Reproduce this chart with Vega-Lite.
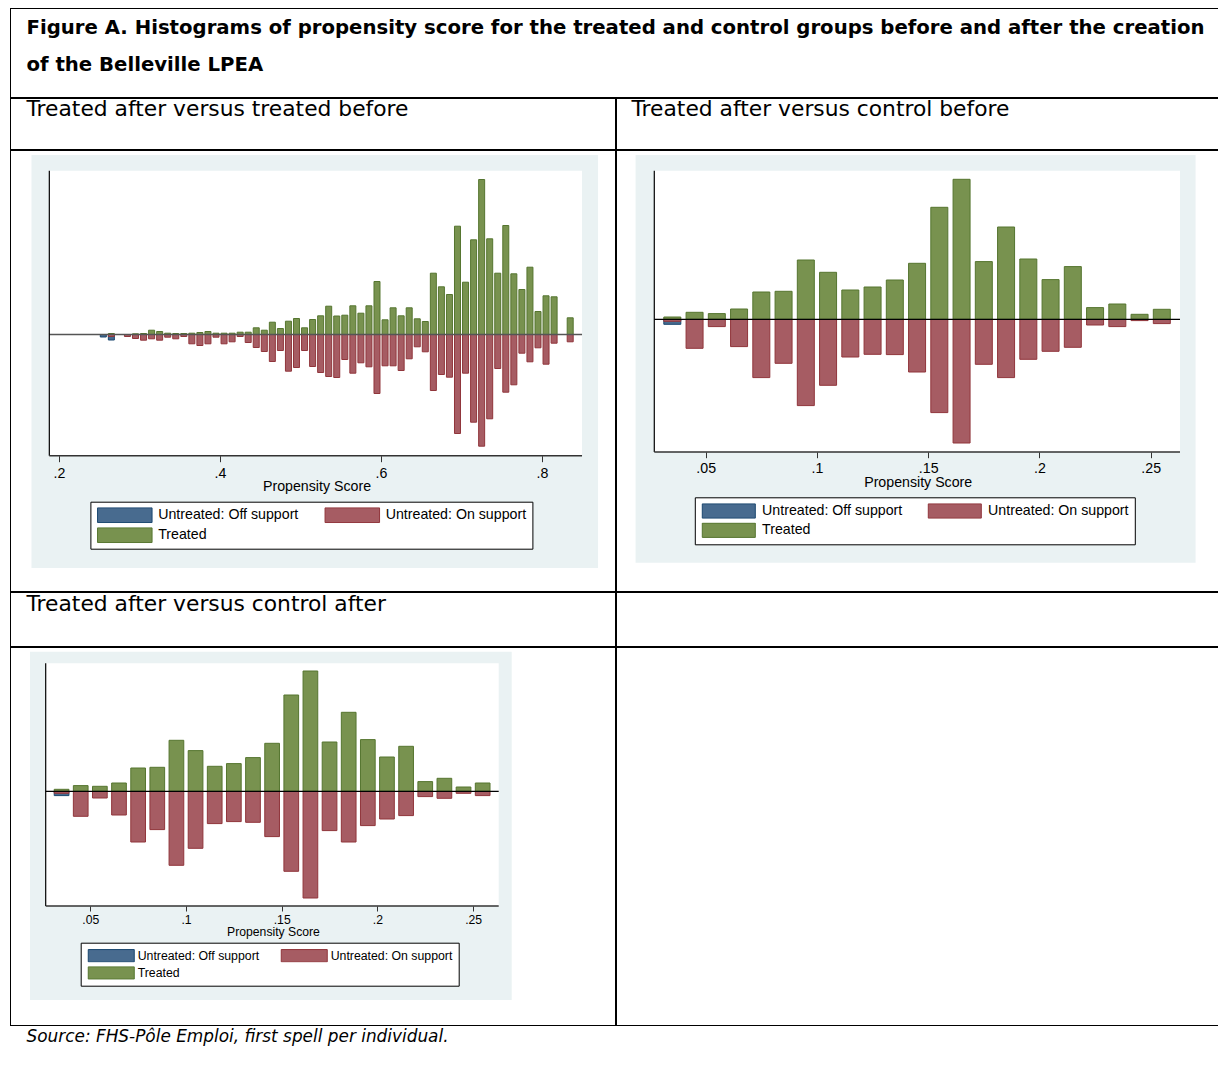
{
"$schema": "https://vega.github.io/schema/vega-lite/v6.json",
"background": "white",
"padding": {"left": 10, "top": 8, "right": 0, "bottom": 0},
"bounds": "full",
"spacing": 0,
"config": {"view": {"stroke": null}},
"resolve": {"scale": {"x": "independent", "y": "independent", "fill": "independent", "stroke": "independent"}, "legend": {"fill": "independent", "stroke": "independent"}},
"datasets": {
"cell": [{}],
"tb": [
{"score":0.255,"group":"Untreated: Off support","density":-2.5},
{"score":0.265,"group":"Untreated: Off support","density":-5.5},
{"score":0.265,"group":"Untreated: On support","density":-2},
{"score":0.285,"group":"Untreated: On support","density":-2},
{"score":0.295,"group":"Untreated: On support","density":-4},
{"score":0.305,"group":"Untreated: On support","density":-5.7},
{"score":0.315,"group":"Untreated: On support","density":-4.3},
{"score":0.325,"group":"Untreated: On support","density":-5.7},
{"score":0.335,"group":"Untreated: On support","density":-2.7},
{"score":0.345,"group":"Untreated: On support","density":-4.3},
{"score":0.355,"group":"Untreated: On support","density":-2},
{"score":0.365,"group":"Untreated: On support","density":-9.3},
{"score":0.375,"group":"Untreated: On support","density":-11},
{"score":0.385,"group":"Untreated: On support","density":-9.3},
{"score":0.395,"group":"Untreated: On support","density":-2.7},
{"score":0.405,"group":"Untreated: On support","density":-9.3},
{"score":0.415,"group":"Untreated: On support","density":-7.3},
{"score":0.425,"group":"Untreated: On support","density":-2},
{"score":0.435,"group":"Untreated: On support","density":-8},
{"score":0.445,"group":"Untreated: On support","density":-13},
{"score":0.455,"group":"Untreated: On support","density":-17},
{"score":0.465,"group":"Untreated: On support","density":-27},
{"score":0.475,"group":"Untreated: On support","density":-16},
{"score":0.485,"group":"Untreated: On support","density":-36.7},
{"score":0.495,"group":"Untreated: On support","density":-33},
{"score":0.505,"group":"Untreated: On support","density":-16},
{"score":0.515,"group":"Untreated: On support","density":-32},
{"score":0.525,"group":"Untreated: On support","density":-38},
{"score":0.535,"group":"Untreated: On support","density":-42},
{"score":0.545,"group":"Untreated: On support","density":-43},
{"score":0.555,"group":"Untreated: On support","density":-25},
{"score":0.565,"group":"Untreated: On support","density":-38.7},
{"score":0.575,"group":"Untreated: On support","density":-28.3},
{"score":0.585,"group":"Untreated: On support","density":-32.3},
{"score":0.595,"group":"Untreated: On support","density":-59},
{"score":0.605,"group":"Untreated: On support","density":-31.3},
{"score":0.615,"group":"Untreated: On support","density":-31.3},
{"score":0.625,"group":"Untreated: On support","density":-36},
{"score":0.635,"group":"Untreated: On support","density":-24.3},
{"score":0.645,"group":"Untreated: On support","density":-12.3},
{"score":0.655,"group":"Untreated: On support","density":-17.3},
{"score":0.665,"group":"Untreated: On support","density":-56},
{"score":0.675,"group":"Untreated: On support","density":-40},
{"score":0.685,"group":"Untreated: On support","density":-42.7},
{"score":0.695,"group":"Untreated: On support","density":-99},
{"score":0.705,"group":"Untreated: On support","density":-38.7},
{"score":0.715,"group":"Untreated: On support","density":-87.7},
{"score":0.725,"group":"Untreated: On support","density":-111.7},
{"score":0.735,"group":"Untreated: On support","density":-84.3},
{"score":0.745,"group":"Untreated: On support","density":-34},
{"score":0.755,"group":"Untreated: On support","density":-57.7},
{"score":0.765,"group":"Untreated: On support","density":-50.3},
{"score":0.775,"group":"Untreated: On support","density":-18.7},
{"score":0.785,"group":"Untreated: On support","density":-27.3},
{"score":0.795,"group":"Untreated: On support","density":-13.3},
{"score":0.805,"group":"Untreated: On support","density":-29.7},
{"score":0.815,"group":"Untreated: On support","density":-8.7},
{"score":0.835,"group":"Untreated: On support","density":-7.3},
{"score":0.265,"group":"Treated","density":1},
{"score":0.295,"group":"Treated","density":0.7},
{"score":0.305,"group":"Treated","density":1},
{"score":0.315,"group":"Treated","density":4.3},
{"score":0.325,"group":"Treated","density":3},
{"score":0.335,"group":"Treated","density":1.3},
{"score":0.345,"group":"Treated","density":1},
{"score":0.355,"group":"Treated","density":1},
{"score":0.365,"group":"Treated","density":1.3},
{"score":0.375,"group":"Treated","density":2},
{"score":0.385,"group":"Treated","density":3},
{"score":0.395,"group":"Treated","density":1.3},
{"score":0.405,"group":"Treated","density":1.3},
{"score":0.415,"group":"Treated","density":1.3},
{"score":0.425,"group":"Treated","density":2.3},
{"score":0.435,"group":"Treated","density":2.3},
{"score":0.445,"group":"Treated","density":6.7},
{"score":0.455,"group":"Treated","density":4.3},
{"score":0.465,"group":"Treated","density":12.3},
{"score":0.475,"group":"Treated","density":6},
{"score":0.485,"group":"Treated","density":13.3},
{"score":0.495,"group":"Treated","density":16},
{"score":0.505,"group":"Treated","density":6.7},
{"score":0.515,"group":"Treated","density":15},
{"score":0.525,"group":"Treated","density":18.7},
{"score":0.535,"group":"Treated","density":28.3},
{"score":0.545,"group":"Treated","density":18.5},
{"score":0.555,"group":"Treated","density":19.3},
{"score":0.565,"group":"Treated","density":28.7},
{"score":0.575,"group":"Treated","density":21.3},
{"score":0.585,"group":"Treated","density":28.7},
{"score":0.595,"group":"Treated","density":53},
{"score":0.605,"group":"Treated","density":14.7},
{"score":0.615,"group":"Treated","density":26.7},
{"score":0.625,"group":"Treated","density":18.7},
{"score":0.635,"group":"Treated","density":26.7},
{"score":0.645,"group":"Treated","density":15.7},
{"score":0.655,"group":"Treated","density":13},
{"score":0.665,"group":"Treated","density":61.3},
{"score":0.675,"group":"Treated","density":47.7},
{"score":0.685,"group":"Treated","density":40},
{"score":0.695,"group":"Treated","density":108.3},
{"score":0.705,"group":"Treated","density":52.3},
{"score":0.715,"group":"Treated","density":94.7},
{"score":0.725,"group":"Treated","density":155},
{"score":0.735,"group":"Treated","density":95.7},
{"score":0.745,"group":"Treated","density":61.3},
{"score":0.755,"group":"Treated","density":109},
{"score":0.765,"group":"Treated","density":60.7},
{"score":0.775,"group":"Treated","density":45},
{"score":0.785,"group":"Treated","density":67.3},
{"score":0.795,"group":"Treated","density":23},
{"score":0.805,"group":"Treated","density":38.7},
{"score":0.815,"group":"Treated","density":37.7},
{"score":0.835,"group":"Treated","density":16.7}
],
"cb": [
{"score":0.035,"group":"Untreated: Off support","density":-5},
{"score":0.035,"group":"Untreated: On support","density":-2},
{"score":0.045,"group":"Untreated: On support","density":-29},
{"score":0.055,"group":"Untreated: On support","density":-7.3},
{"score":0.065,"group":"Untreated: On support","density":-27.3},
{"score":0.075,"group":"Untreated: On support","density":-58.3},
{"score":0.085,"group":"Untreated: On support","density":-44},
{"score":0.095,"group":"Untreated: On support","density":-86.3},
{"score":0.105,"group":"Untreated: On support","density":-66},
{"score":0.115,"group":"Untreated: On support","density":-37.7},
{"score":0.125,"group":"Untreated: On support","density":-35},
{"score":0.135,"group":"Untreated: On support","density":-35.3},
{"score":0.145,"group":"Untreated: On support","density":-52.7},
{"score":0.155,"group":"Untreated: On support","density":-93.3},
{"score":0.165,"group":"Untreated: On support","density":-123.7},
{"score":0.175,"group":"Untreated: On support","density":-45},
{"score":0.185,"group":"Untreated: On support","density":-58.3},
{"score":0.195,"group":"Untreated: On support","density":-40},
{"score":0.205,"group":"Untreated: On support","density":-32},
{"score":0.215,"group":"Untreated: On support","density":-28},
{"score":0.225,"group":"Untreated: On support","density":-5.7},
{"score":0.235,"group":"Untreated: On support","density":-7.3},
{"score":0.245,"group":"Untreated: On support","density":-1.3},
{"score":0.255,"group":"Untreated: On support","density":-4.3},
{"score":0.035,"group":"Treated","density":2.3},
{"score":0.045,"group":"Treated","density":7},
{"score":0.055,"group":"Treated","density":5.7},
{"score":0.065,"group":"Treated","density":10.3},
{"score":0.075,"group":"Treated","density":27.3},
{"score":0.085,"group":"Treated","density":28},
{"score":0.095,"group":"Treated","density":59.3},
{"score":0.105,"group":"Treated","density":47},
{"score":0.115,"group":"Treated","density":29.3},
{"score":0.125,"group":"Treated","density":32.3},
{"score":0.135,"group":"Treated","density":39.3},
{"score":0.145,"group":"Treated","density":56},
{"score":0.155,"group":"Treated","density":112},
{"score":0.165,"group":"Treated","density":140},
{"score":0.175,"group":"Treated","density":57.7},
{"score":0.185,"group":"Treated","density":92.3},
{"score":0.195,"group":"Treated","density":60.3},
{"score":0.205,"group":"Treated","density":39.7},
{"score":0.215,"group":"Treated","density":52.7},
{"score":0.225,"group":"Treated","density":11.7},
{"score":0.235,"group":"Treated","density":15.3},
{"score":0.245,"group":"Treated","density":5},
{"score":0.255,"group":"Treated","density":10}
],
"ca": [
{"score":0.035,"group":"Untreated: Off support","density":-4.3},
{"score":0.035,"group":"Untreated: On support","density":-2},
{"score":0.045,"group":"Untreated: On support","density":-25},
{"score":0.055,"group":"Untreated: On support","density":-6.7},
{"score":0.065,"group":"Untreated: On support","density":-23.7},
{"score":0.075,"group":"Untreated: On support","density":-50.7},
{"score":0.085,"group":"Untreated: On support","density":-38.3},
{"score":0.095,"group":"Untreated: On support","density":-74},
{"score":0.105,"group":"Untreated: On support","density":-57},
{"score":0.115,"group":"Untreated: On support","density":-32.3},
{"score":0.125,"group":"Untreated: On support","density":-30.3},
{"score":0.135,"group":"Untreated: On support","density":-31},
{"score":0.145,"group":"Untreated: On support","density":-45.3},
{"score":0.155,"group":"Untreated: On support","density":-80},
{"score":0.165,"group":"Untreated: On support","density":-106.7},
{"score":0.175,"group":"Untreated: On support","density":-39.3},
{"score":0.185,"group":"Untreated: On support","density":-50.7},
{"score":0.195,"group":"Untreated: On support","density":-34.3},
{"score":0.205,"group":"Untreated: On support","density":-27.7},
{"score":0.215,"group":"Untreated: On support","density":-24.3},
{"score":0.225,"group":"Untreated: On support","density":-5.3},
{"score":0.235,"group":"Untreated: On support","density":-7},
{"score":0.245,"group":"Untreated: On support","density":-2},
{"score":0.255,"group":"Untreated: On support","density":-4.3},
{"score":0.035,"group":"Treated","density":2},
{"score":0.045,"group":"Treated","density":5.7},
{"score":0.055,"group":"Treated","density":5},
{"score":0.065,"group":"Treated","density":8.3},
{"score":0.075,"group":"Treated","density":23.3},
{"score":0.085,"group":"Treated","density":24},
{"score":0.095,"group":"Treated","density":51},
{"score":0.105,"group":"Treated","density":40.7},
{"score":0.115,"group":"Treated","density":25},
{"score":0.125,"group":"Treated","density":27.7},
{"score":0.135,"group":"Treated","density":33.7},
{"score":0.145,"group":"Treated","density":48},
{"score":0.155,"group":"Treated","density":96.3},
{"score":0.165,"group":"Treated","density":120.3},
{"score":0.175,"group":"Treated","density":49.3},
{"score":0.185,"group":"Treated","density":79},
{"score":0.195,"group":"Treated","density":51.7},
{"score":0.205,"group":"Treated","density":34.3},
{"score":0.215,"group":"Treated","density":45},
{"score":0.225,"group":"Treated","density":9.7},
{"score":0.235,"group":"Treated","density":13},
{"score":0.245,"group":"Treated","density":4.3},
{"score":0.255,"group":"Treated","density":8.3}
]
},
"vconcat": [
{"width": 1209, "height": 90, "data": {"name": "cell"}, "mark": {"type": "rect", "fill": "white", "fillOpacity": 0, "stroke": "black", "strokeWidth": 2, "clip": true},
 "encoding": {"x": {"datum": 0, "type": "quantitative", "scale": {"domain": [0, 1], "nice": false, "zero": false, "padding": 0},
   "axis": {"orient": "top", "domain": false, "ticks": false, "labels": false, "grid": false, "title": ["Figure A. Histograms of propensity score for the treated and control groups before and after the creation", "of the Belleville LPEA"], "titleX": 16, "titleY": 25.5, "titleAlign": "left", "titleAnchor": "start", "titleBaseline": "alphabetic", "titleLineHeight": 37, "titleFont": "DejaVu Sans", "titleFontSize": 19.7, "titleFontWeight": "bold", "titleColor": "black", "titlePadding": 0, "zindex": 1}},
  "x2": {"datum": 1}}},
{"hconcat": [
 {"width": 606, "height": 52, "data": {"name": "cell"}, "mark": {"type": "rect", "fill": "white", "fillOpacity": 0, "stroke": "black", "strokeWidth": 2, "clip": true},
  "encoding": {"x": {"datum": 0, "type": "quantitative", "scale": {"domain": [0, 1], "nice": false, "zero": false, "padding": 0},
    "axis": {"orient": "top", "domain": false, "ticks": false, "labels": false, "grid": false, "title": "Treated after versus treated before", "titleX": 16, "titleY": 17.7, "titleAlign": "left", "titleAnchor": "start", "titleBaseline": "alphabetic", "titleFont": "DejaVu Sans", "titleFontSize": 21.8, "titleFontWeight": "normal", "titleColor": "black", "titlePadding": 0, "zindex": 1}},
   "x2": {"datum": 1}}},
 {"width": 603, "height": 52, "data": {"name": "cell"}, "mark": {"type": "rect", "fill": "white", "fillOpacity": 0, "stroke": "black", "strokeWidth": 2, "clip": true},
  "encoding": {"x": {"datum": 0, "type": "quantitative", "scale": {"domain": [0, 1], "nice": false, "zero": false, "padding": 0},
    "axis": {"orient": "top", "domain": false, "ticks": false, "labels": false, "grid": false, "title": "Treated after versus control before", "titleX": 15, "titleY": 17.7, "titleAlign": "left", "titleAnchor": "start", "titleBaseline": "alphabetic", "titleFont": "DejaVu Sans", "titleFontSize": 21.8, "titleFontWeight": "normal", "titleColor": "black", "titlePadding": 0, "zindex": 1}},
   "x2": {"datum": 1}}}
 ], "spacing": 0},
{"hconcat": [
 {"width": 606, "height": 442,
  "layer": [
   {"data": {"name": "cell"}, "mark": {"type": "rect", "fill": "#EAF2F3"},
    "encoding": {"x": {"datum": 0.1658, "type": "quantitative", "scale": {"domain": [0.1391, 0.8919], "nice": false, "zero": false, "padding": 0},
      "axis": {"values": [0.2, 0.4, 0.6, 0.8], "offset": -136.3, "domain": false, "grid": false, "ticks": true, "tickSize": 6, "tickColor": "#333333", "tickWidth": 1, "labelExpr": "replace(format(datum.value, '.1f'), '0.', '.')", "labelFont": "Liberation Sans", "labelFontSize": 14.2, "labelColor": "black", "labelBaseline": "alphabetic", "labelPadding": 15.6, "labelFlush": false, "labelOverlap": false, "labelBound": false, "title": "Propensity Score", "titleFont": "Liberation Sans", "titleFontSize": 14.2, "titleFontWeight": "normal", "titleColor": "black", "titleX": 306.5, "titleY": 34.3, "titleBaseline": "alphabetic", "titleAlign": "center", "zindex": 1}},
     "x2": {"datum": 0.8696},
     "y": {"datum": 179.5, "type": "quantitative", "scale": {"domain": [-257.5, 184.5], "nice": false, "zero": false, "padding": 0}, "axis": null}, "y2": {"datum": -233.5}}},
   {"data": {"name": "cell"}, "mark": {"type": "rect", "fill": "white"},
    "encoding": {"x": {"datum": 0.18795, "type": "quantitative", "scale": {"domain": [0.1391, 0.8919], "nice": false, "zero": false, "padding": 0},
      "axis": {"values": [0.2, 0.4, 0.6, 0.8], "offset": -136.3, "domain": false, "grid": false, "ticks": true, "tickSize": 6, "tickColor": "#333333", "tickWidth": 1, "labelExpr": "replace(format(datum.value, '.1f'), '0.', '.')", "labelFont": "Liberation Sans", "labelFontSize": 14.2, "labelColor": "black", "labelBaseline": "alphabetic", "labelPadding": 15.6, "labelFlush": false, "labelOverlap": false, "labelBound": false, "title": "Propensity Score", "titleFont": "Liberation Sans", "titleFontSize": 14.2, "titleFontWeight": "normal", "titleColor": "black", "titleX": 306.5, "titleY": 34.3, "titleBaseline": "alphabetic", "titleAlign": "center", "zindex": 1}},
     "x2": {"datum": 0.8497},
     "y": {"datum": 163.8, "type": "quantitative", "scale": {"domain": [-257.5, 184.5], "nice": false, "zero": false, "padding": 0}, "axis": null}, "y2": {"datum": -121.2}}},
   {"data": {"name": "tb"}, "mark": {"type": "bar", "width": 6, "strokeWidth": 1},
    "encoding": {
     "x": {"field": "score", "type": "quantitative", "scale": {"domain": [0.1391, 0.8919], "nice": false, "zero": false, "padding": 0},
      "axis": {"values": [0.2, 0.4, 0.6, 0.8], "offset": -136.3, "domain": false, "grid": false, "ticks": true, "tickSize": 6, "tickColor": "#333333", "tickWidth": 1, "labelExpr": "replace(format(datum.value, '.1f'), '0.', '.')", "labelFont": "Liberation Sans", "labelFontSize": 14.2, "labelColor": "black", "labelBaseline": "alphabetic", "labelPadding": 15.6, "labelFlush": false, "labelOverlap": false, "labelBound": false, "title": "Propensity Score", "titleFont": "Liberation Sans", "titleFontSize": 14.2, "titleFontWeight": "normal", "titleColor": "black", "titleX": 306.5, "titleY": 34.3, "titleBaseline": "alphabetic", "titleAlign": "center", "zindex": 1}},
     "y": {"field": "density", "type": "quantitative", "scale": {"domain": [-257.5, 184.5], "nice": false, "zero": false, "padding": 0}, "axis": null},
     "y2": {"datum": 0},
     "fill": {"field": "group", "type": "nominal", "scale": {"domain": ["Untreated: Off support", "Untreated: On support", "Treated"], "range": ["#486B8F", "#A65C63", "#78924F"]},
      "legend": {"orient": "none", "legendX": 80.4, "legendY": 351.7, "title": null, "direction": "horizontal", "columns": 2, "symbolType": "M-5,-1.35H5V1.35H-5Z", "symbolSize": 118.8, "symbolOffset": 21.8, "symbolStrokeWidth": 1, "symbolOpacity": 1, "labelFont": "Liberation Sans", "labelFontSize": 14.2, "labelColor": "black", "labelOffset": 26.3, "labelLimit": 400, "clipHeight": 16, "columnPadding": 24.5, "rowPadding": 4, "padding": 5.5, "strokeColor": "black", "fillColor": "white", "zindex": 1}},
     "stroke": {"field": "group", "type": "nominal", "scale": {"domain": ["Untreated: Off support", "Untreated: On support", "Treated"], "range": ["#1A476F", "#90353B", "#55752F"]}}
    }},
   {"data": {"name": "cell"}, "mark": {"type": "rule", "color": "#555555", "strokeWidth": 1.5},
    "encoding": {"x": {"datum": 0.18795, "type": "quantitative", "scale": {"domain": [0.1391, 0.8919], "nice": false, "zero": false, "padding": 0},
      "axis": {"values": [0.2, 0.4, 0.6, 0.8], "offset": -136.3, "domain": false, "grid": false, "ticks": true, "tickSize": 6, "tickColor": "#333333", "tickWidth": 1, "labelExpr": "replace(format(datum.value, '.1f'), '0.', '.')", "labelFont": "Liberation Sans", "labelFontSize": 14.2, "labelColor": "black", "labelBaseline": "alphabetic", "labelPadding": 15.6, "labelFlush": false, "labelOverlap": false, "labelBound": false, "title": "Propensity Score", "titleFont": "Liberation Sans", "titleFontSize": 14.2, "titleFontWeight": "normal", "titleColor": "black", "titleX": 306.5, "titleY": 34.3, "titleBaseline": "alphabetic", "titleAlign": "center", "zindex": 1}},
     "x2": {"datum": 0.8497},
     "y": {"datum": 0, "type": "quantitative", "scale": {"domain": [-257.5, 184.5], "nice": false, "zero": false, "padding": 0}, "axis": null}}},
   {"data": {"name": "cell"}, "mark": {"type": "rule", "color": "black", "strokeWidth": 1.2},
    "encoding": {"x": {"datum": 0.18795, "type": "quantitative", "scale": {"domain": [0.1391, 0.8919], "nice": false, "zero": false, "padding": 0},
      "axis": {"values": [0.2, 0.4, 0.6, 0.8], "offset": -136.3, "domain": false, "grid": false, "ticks": true, "tickSize": 6, "tickColor": "#333333", "tickWidth": 1, "labelExpr": "replace(format(datum.value, '.1f'), '0.', '.')", "labelFont": "Liberation Sans", "labelFontSize": 14.2, "labelColor": "black", "labelBaseline": "alphabetic", "labelPadding": 15.6, "labelFlush": false, "labelOverlap": false, "labelBound": false, "title": "Propensity Score", "titleFont": "Liberation Sans", "titleFontSize": 14.2, "titleFontWeight": "normal", "titleColor": "black", "titleX": 306.5, "titleY": 34.3, "titleBaseline": "alphabetic", "titleAlign": "center", "zindex": 1}},
     "y": {"datum": 163.8, "type": "quantitative", "scale": {"domain": [-257.5, 184.5], "nice": false, "zero": false, "padding": 0}, "axis": null}, "y2": {"datum": -121.2}}},
   {"data": {"name": "cell"}, "mark": {"type": "rule", "color": "#333333", "strokeWidth": 1.5},
    "encoding": {"x": {"datum": 0.18795, "type": "quantitative", "scale": {"domain": [0.1391, 0.8919], "nice": false, "zero": false, "padding": 0},
      "axis": {"values": [0.2, 0.4, 0.6, 0.8], "offset": -136.3, "domain": false, "grid": false, "ticks": true, "tickSize": 6, "tickColor": "#333333", "tickWidth": 1, "labelExpr": "replace(format(datum.value, '.1f'), '0.', '.')", "labelFont": "Liberation Sans", "labelFontSize": 14.2, "labelColor": "black", "labelBaseline": "alphabetic", "labelPadding": 15.6, "labelFlush": false, "labelOverlap": false, "labelBound": false, "title": "Propensity Score", "titleFont": "Liberation Sans", "titleFontSize": 14.2, "titleFontWeight": "normal", "titleColor": "black", "titleX": 306.5, "titleY": 34.3, "titleBaseline": "alphabetic", "titleAlign": "center", "zindex": 1}},
     "x2": {"datum": 0.8497},
     "y": {"datum": -121.2, "type": "quantitative", "scale": {"domain": [-257.5, 184.5], "nice": false, "zero": false, "padding": 0}, "axis": null}}},
   {"data": {"name": "cell"}, "mark": {"type": "rect", "fill": "white", "fillOpacity": 0, "stroke": "black", "strokeWidth": 2, "clip": true}, "encoding": {}}
  ]},
 {"width": 603, "height": 442,
  "layer": [
   {"data": {"name": "cell"}, "mark": {"type": "rect", "fill": "#EAF2F3"},
    "encoding": {"x": {"datum": 0.01849, "type": "quantitative", "scale": {"domain": [0.00969, 0.2807], "nice": false, "zero": false, "padding": 0},
      "axis": {"values": [0.05, 0.1, 0.15, 0.2, 0.25], "offset": -140, "domain": false, "grid": false, "ticks": true, "tickSize": 5.7, "tickColor": "#333333", "tickWidth": 1, "labelExpr": "replace(format(datum.value, '.2~f'), '0.', '.')", "labelFont": "Liberation Sans", "labelFontSize": 14.2, "labelColor": "black", "labelBaseline": "alphabetic", "labelPadding": 14.7, "labelFlush": false, "labelOverlap": false, "labelBound": false, "title": "Propensity Score", "titleFont": "Liberation Sans", "titleFontSize": 14.2, "titleFontWeight": "normal", "titleColor": "black", "titleX": 301.7, "titleY": 34.4, "titleBaseline": "alphabetic", "titleAlign": "center", "zindex": 1}},
     "x2": {"datum": 0.27018},
     "y": {"datum": 164.3, "type": "quantitative", "scale": {"domain": [-272.7, 169.3], "nice": false, "zero": false, "padding": 0}, "axis": null}, "y2": {"datum": -243.4}}},
   {"data": {"name": "cell"}, "mark": {"type": "rect", "fill": "white"},
    "encoding": {"x": {"datum": 0.0269, "type": "quantitative", "scale": {"domain": [0.00969, 0.2807], "nice": false, "zero": false, "padding": 0},
      "axis": {"values": [0.05, 0.1, 0.15, 0.2, 0.25], "offset": -140, "domain": false, "grid": false, "ticks": true, "tickSize": 5.7, "tickColor": "#333333", "tickWidth": 1, "labelExpr": "replace(format(datum.value, '.2~f'), '0.', '.')", "labelFont": "Liberation Sans", "labelFontSize": 14.2, "labelColor": "black", "labelBaseline": "alphabetic", "labelPadding": 14.7, "labelFlush": false, "labelOverlap": false, "labelBound": false, "title": "Propensity Score", "titleFont": "Liberation Sans", "titleFontSize": 14.2, "titleFontWeight": "normal", "titleColor": "black", "titleX": 301.7, "titleY": 34.4, "titleBaseline": "alphabetic", "titleAlign": "center", "zindex": 1}},
     "x2": {"datum": 0.26317},
     "y": {"datum": 148.6, "type": "quantitative", "scale": {"domain": [-272.7, 169.3], "nice": false, "zero": false, "padding": 0}, "axis": null}, "y2": {"datum": -132.7}}},
   {"data": {"name": "cb"}, "mark": {"type": "bar", "width": 17, "strokeWidth": 1},
    "encoding": {
     "x": {"field": "score", "type": "quantitative", "scale": {"domain": [0.00969, 0.2807], "nice": false, "zero": false, "padding": 0},
      "axis": {"values": [0.05, 0.1, 0.15, 0.2, 0.25], "offset": -140, "domain": false, "grid": false, "ticks": true, "tickSize": 5.7, "tickColor": "#333333", "tickWidth": 1, "labelExpr": "replace(format(datum.value, '.2~f'), '0.', '.')", "labelFont": "Liberation Sans", "labelFontSize": 14.2, "labelColor": "black", "labelBaseline": "alphabetic", "labelPadding": 14.7, "labelFlush": false, "labelOverlap": false, "labelBound": false, "title": "Propensity Score", "titleFont": "Liberation Sans", "titleFontSize": 14.2, "titleFontWeight": "normal", "titleColor": "black", "titleX": 301.7, "titleY": 34.4, "titleBaseline": "alphabetic", "titleAlign": "center", "zindex": 1}},
     "y": {"field": "density", "type": "quantitative", "scale": {"domain": [-272.7, 169.3], "nice": false, "zero": false, "padding": 0}, "axis": null},
     "y2": {"datum": 0},
     "fill": {"field": "group", "type": "nominal", "scale": {"domain": ["Untreated: Off support", "Untreated: On support", "Treated"], "range": ["#486B8F", "#A65C63", "#78924F"]},
      "legend": {"orient": "none", "legendX": 78.8, "legendY": 347.3, "title": null, "direction": "horizontal", "columns": 2, "symbolType": "M-5,-1.35H5V1.35H-5Z", "symbolSize": 112.4, "symbolOffset": 21.2, "symbolStrokeWidth": 1, "symbolOpacity": 1, "labelFont": "Liberation Sans", "labelFontSize": 14.2, "labelColor": "black", "labelOffset": 26.2, "labelLimit": 400, "clipHeight": 15.5, "columnPadding": 24, "rowPadding": 3.5, "padding": 5.7, "strokeColor": "black", "fillColor": "white", "zindex": 1}},
     "stroke": {"field": "group", "type": "nominal", "scale": {"domain": ["Untreated: Off support", "Untreated: On support", "Treated"], "range": ["#1A476F", "#90353B", "#55752F"]}}
    }},
   {"data": {"name": "cell"}, "mark": {"type": "rule", "color": "black", "strokeWidth": 1.3},
    "encoding": {"x": {"datum": 0.0269, "type": "quantitative", "scale": {"domain": [0.00969, 0.2807], "nice": false, "zero": false, "padding": 0},
      "axis": {"values": [0.05, 0.1, 0.15, 0.2, 0.25], "offset": -140, "domain": false, "grid": false, "ticks": true, "tickSize": 5.7, "tickColor": "#333333", "tickWidth": 1, "labelExpr": "replace(format(datum.value, '.2~f'), '0.', '.')", "labelFont": "Liberation Sans", "labelFontSize": 14.2, "labelColor": "black", "labelBaseline": "alphabetic", "labelPadding": 14.7, "labelFlush": false, "labelOverlap": false, "labelBound": false, "title": "Propensity Score", "titleFont": "Liberation Sans", "titleFontSize": 14.2, "titleFontWeight": "normal", "titleColor": "black", "titleX": 301.7, "titleY": 34.4, "titleBaseline": "alphabetic", "titleAlign": "center", "zindex": 1}},
     "x2": {"datum": 0.26317},
     "y": {"datum": 0, "type": "quantitative", "scale": {"domain": [-272.7, 169.3], "nice": false, "zero": false, "padding": 0}, "axis": null}}},
   {"data": {"name": "cell"}, "mark": {"type": "rule", "color": "black", "strokeWidth": 1.2},
    "encoding": {"x": {"datum": 0.0269, "type": "quantitative", "scale": {"domain": [0.00969, 0.2807], "nice": false, "zero": false, "padding": 0},
      "axis": {"values": [0.05, 0.1, 0.15, 0.2, 0.25], "offset": -140, "domain": false, "grid": false, "ticks": true, "tickSize": 5.7, "tickColor": "#333333", "tickWidth": 1, "labelExpr": "replace(format(datum.value, '.2~f'), '0.', '.')", "labelFont": "Liberation Sans", "labelFontSize": 14.2, "labelColor": "black", "labelBaseline": "alphabetic", "labelPadding": 14.7, "labelFlush": false, "labelOverlap": false, "labelBound": false, "title": "Propensity Score", "titleFont": "Liberation Sans", "titleFontSize": 14.2, "titleFontWeight": "normal", "titleColor": "black", "titleX": 301.7, "titleY": 34.4, "titleBaseline": "alphabetic", "titleAlign": "center", "zindex": 1}},
     "y": {"datum": 148.6, "type": "quantitative", "scale": {"domain": [-272.7, 169.3], "nice": false, "zero": false, "padding": 0}, "axis": null}, "y2": {"datum": -132.7}}},
   {"data": {"name": "cell"}, "mark": {"type": "rule", "color": "#333333", "strokeWidth": 1.5},
    "encoding": {"x": {"datum": 0.0269, "type": "quantitative", "scale": {"domain": [0.00969, 0.2807], "nice": false, "zero": false, "padding": 0},
      "axis": {"values": [0.05, 0.1, 0.15, 0.2, 0.25], "offset": -140, "domain": false, "grid": false, "ticks": true, "tickSize": 5.7, "tickColor": "#333333", "tickWidth": 1, "labelExpr": "replace(format(datum.value, '.2~f'), '0.', '.')", "labelFont": "Liberation Sans", "labelFontSize": 14.2, "labelColor": "black", "labelBaseline": "alphabetic", "labelPadding": 14.7, "labelFlush": false, "labelOverlap": false, "labelBound": false, "title": "Propensity Score", "titleFont": "Liberation Sans", "titleFontSize": 14.2, "titleFontWeight": "normal", "titleColor": "black", "titleX": 301.7, "titleY": 34.4, "titleBaseline": "alphabetic", "titleAlign": "center", "zindex": 1}},
     "x2": {"datum": 0.26317},
     "y": {"datum": -132.7, "type": "quantitative", "scale": {"domain": [-272.7, 169.3], "nice": false, "zero": false, "padding": 0}, "axis": null}}},
   {"data": {"name": "cell"}, "mark": {"type": "rect", "fill": "white", "fillOpacity": 0, "stroke": "black", "strokeWidth": 2, "clip": true}, "encoding": {}}
  ]}
 ], "spacing": 0,
 "resolve": {"scale": {"x": "independent", "y": "independent", "fill": "independent", "stroke": "independent"}, "legend": {"fill": "independent", "stroke": "independent"}}},
{"hconcat": [
 {"width": 606, "height": 55, "data": {"name": "cell"}, "mark": {"type": "rect", "fill": "white", "fillOpacity": 0, "stroke": "black", "strokeWidth": 2, "clip": true},
  "encoding": {"x": {"datum": 0, "type": "quantitative", "scale": {"domain": [0, 1], "nice": false, "zero": false, "padding": 0},
    "axis": {"orient": "top", "domain": false, "ticks": false, "labels": false, "grid": false, "title": "Treated after versus control after", "titleX": 16, "titleY": 18, "titleAlign": "left", "titleAnchor": "start", "titleBaseline": "alphabetic", "titleFont": "DejaVu Sans", "titleFontSize": 21.8, "titleFontWeight": "normal", "titleColor": "black", "titlePadding": 0, "zindex": 1}},
   "x2": {"datum": 1}}},
 {"width": 603, "height": 55, "data": {"name": "cell"}, "mark": {"type": "rect", "fill": "white", "fillOpacity": 0, "stroke": "black", "strokeWidth": 2, "clip": true}}
 ], "spacing": 0},
{"hconcat": [
 {"width": 606, "height": 379,
  "layer": [
   {"data": {"name": "cell"}, "mark": {"type": "rect", "fill": "#EAF2F3"},
    "encoding": {"x": {"datum": 0.0185, "type": "quantitative", "scale": {"domain": [0.00805, 0.32466], "nice": false, "zero": false, "padding": 0},
      "axis": {"values": [0.05, 0.1, 0.15, 0.2, 0.25], "offset": -120, "domain": false, "grid": false, "ticks": true, "tickSize": 5, "tickColor": "#333333", "tickWidth": 1, "labelExpr": "replace(format(datum.value, '.2~f'), '0.', '.')", "labelFont": "Liberation Sans", "labelFontSize": 12.2, "labelColor": "black", "labelBaseline": "alphabetic", "labelPadding": 12.3, "labelFlush": false, "labelOverlap": false, "labelBound": false, "title": "Propensity Score", "titleFont": "Liberation Sans", "titleFontSize": 12.2, "titleFontWeight": "normal", "titleColor": "black", "titleX": 263, "titleY": 29.7, "titleBaseline": "alphabetic", "titleAlign": "center", "zindex": 1}},
     "x2": {"datum": 0.27017},
     "y": {"datum": 139.6, "type": "quantitative", "scale": {"domain": [-234.7, 144.3], "nice": false, "zero": false, "padding": 0}, "axis": null}, "y2": {"datum": -208.7}}},
   {"data": {"name": "cell"}, "mark": {"type": "rect", "fill": "white"},
    "encoding": {"x": {"datum": 0.0267, "type": "quantitative", "scale": {"domain": [0.00805, 0.32466], "nice": false, "zero": false, "padding": 0},
      "axis": {"values": [0.05, 0.1, 0.15, 0.2, 0.25], "offset": -120, "domain": false, "grid": false, "ticks": true, "tickSize": 5, "tickColor": "#333333", "tickWidth": 1, "labelExpr": "replace(format(datum.value, '.2~f'), '0.', '.')", "labelFont": "Liberation Sans", "labelFontSize": 12.2, "labelColor": "black", "labelBaseline": "alphabetic", "labelPadding": 12.3, "labelFlush": false, "labelOverlap": false, "labelBound": false, "title": "Propensity Score", "titleFont": "Liberation Sans", "titleFontSize": 12.2, "titleFontWeight": "normal", "titleColor": "black", "titleX": 263, "titleY": 29.7, "titleBaseline": "alphabetic", "titleAlign": "center", "zindex": 1}},
     "x2": {"datum": 0.26338},
     "y": {"datum": 128, "type": "quantitative", "scale": {"domain": [-234.7, 144.3], "nice": false, "zero": false, "padding": 0}, "axis": null}, "y2": {"datum": -114.7}}},
   {"data": {"name": "ca"}, "mark": {"type": "bar", "width": 14.7, "strokeWidth": 1},
    "encoding": {
     "x": {"field": "score", "type": "quantitative", "scale": {"domain": [0.00805, 0.32466], "nice": false, "zero": false, "padding": 0},
      "axis": {"values": [0.05, 0.1, 0.15, 0.2, 0.25], "offset": -120, "domain": false, "grid": false, "ticks": true, "tickSize": 5, "tickColor": "#333333", "tickWidth": 1, "labelExpr": "replace(format(datum.value, '.2~f'), '0.', '.')", "labelFont": "Liberation Sans", "labelFontSize": 12.2, "labelColor": "black", "labelBaseline": "alphabetic", "labelPadding": 12.3, "labelFlush": false, "labelOverlap": false, "labelBound": false, "title": "Propensity Score", "titleFont": "Liberation Sans", "titleFontSize": 12.2, "titleFontWeight": "normal", "titleColor": "black", "titleX": 263, "titleY": 29.7, "titleBaseline": "alphabetic", "titleAlign": "center", "zindex": 1}},
     "y": {"field": "density", "type": "quantitative", "scale": {"domain": [-234.7, 144.3], "nice": false, "zero": false, "padding": 0}, "axis": null},
     "y2": {"datum": 0},
     "fill": {"field": "group", "type": "nominal", "scale": {"domain": ["Untreated: Off support", "Untreated: On support", "Treated"], "range": ["#486B8F", "#A65C63", "#78924F"]},
      "legend": {"orient": "none", "legendX": 70.7, "legendY": 295.7, "title": null, "direction": "horizontal", "columns": 2, "symbolType": "M-5,-1.335H5V1.335H-5Z", "symbolSize": 84.64, "symbolOffset": 18.4, "symbolStrokeWidth": 1, "symbolOpacity": 1, "labelFont": "Liberation Sans", "labelFontSize": 12.3, "labelColor": "black", "labelOffset": 20.3, "labelLimit": 400, "clipHeight": 13.5, "columnPadding": 20, "rowPadding": 3.5, "padding": 6, "strokeColor": "black", "fillColor": "white", "zindex": 1}},
     "stroke": {"field": "group", "type": "nominal", "scale": {"domain": ["Untreated: Off support", "Untreated: On support", "Treated"], "range": ["#1A476F", "#90353B", "#55752F"]}}
    }},
   {"data": {"name": "cell"}, "mark": {"type": "rule", "color": "black", "strokeWidth": 1.3},
    "encoding": {"x": {"datum": 0.0267, "type": "quantitative", "scale": {"domain": [0.00805, 0.32466], "nice": false, "zero": false, "padding": 0},
      "axis": {"values": [0.05, 0.1, 0.15, 0.2, 0.25], "offset": -120, "domain": false, "grid": false, "ticks": true, "tickSize": 5, "tickColor": "#333333", "tickWidth": 1, "labelExpr": "replace(format(datum.value, '.2~f'), '0.', '.')", "labelFont": "Liberation Sans", "labelFontSize": 12.2, "labelColor": "black", "labelBaseline": "alphabetic", "labelPadding": 12.3, "labelFlush": false, "labelOverlap": false, "labelBound": false, "title": "Propensity Score", "titleFont": "Liberation Sans", "titleFontSize": 12.2, "titleFontWeight": "normal", "titleColor": "black", "titleX": 263, "titleY": 29.7, "titleBaseline": "alphabetic", "titleAlign": "center", "zindex": 1}},
     "x2": {"datum": 0.26338},
     "y": {"datum": 0, "type": "quantitative", "scale": {"domain": [-234.7, 144.3], "nice": false, "zero": false, "padding": 0}, "axis": null}}},
   {"data": {"name": "cell"}, "mark": {"type": "rule", "color": "black", "strokeWidth": 1.2},
    "encoding": {"x": {"datum": 0.0267, "type": "quantitative", "scale": {"domain": [0.00805, 0.32466], "nice": false, "zero": false, "padding": 0},
      "axis": {"values": [0.05, 0.1, 0.15, 0.2, 0.25], "offset": -120, "domain": false, "grid": false, "ticks": true, "tickSize": 5, "tickColor": "#333333", "tickWidth": 1, "labelExpr": "replace(format(datum.value, '.2~f'), '0.', '.')", "labelFont": "Liberation Sans", "labelFontSize": 12.2, "labelColor": "black", "labelBaseline": "alphabetic", "labelPadding": 12.3, "labelFlush": false, "labelOverlap": false, "labelBound": false, "title": "Propensity Score", "titleFont": "Liberation Sans", "titleFontSize": 12.2, "titleFontWeight": "normal", "titleColor": "black", "titleX": 263, "titleY": 29.7, "titleBaseline": "alphabetic", "titleAlign": "center", "zindex": 1}},
     "y": {"datum": 128, "type": "quantitative", "scale": {"domain": [-234.7, 144.3], "nice": false, "zero": false, "padding": 0}, "axis": null}, "y2": {"datum": -114.7}}},
   {"data": {"name": "cell"}, "mark": {"type": "rule", "color": "#333333", "strokeWidth": 1.5},
    "encoding": {"x": {"datum": 0.0267, "type": "quantitative", "scale": {"domain": [0.00805, 0.32466], "nice": false, "zero": false, "padding": 0},
      "axis": {"values": [0.05, 0.1, 0.15, 0.2, 0.25], "offset": -120, "domain": false, "grid": false, "ticks": true, "tickSize": 5, "tickColor": "#333333", "tickWidth": 1, "labelExpr": "replace(format(datum.value, '.2~f'), '0.', '.')", "labelFont": "Liberation Sans", "labelFontSize": 12.2, "labelColor": "black", "labelBaseline": "alphabetic", "labelPadding": 12.3, "labelFlush": false, "labelOverlap": false, "labelBound": false, "title": "Propensity Score", "titleFont": "Liberation Sans", "titleFontSize": 12.2, "titleFontWeight": "normal", "titleColor": "black", "titleX": 263, "titleY": 29.7, "titleBaseline": "alphabetic", "titleAlign": "center", "zindex": 1}},
     "x2": {"datum": 0.26338},
     "y": {"datum": -114.7, "type": "quantitative", "scale": {"domain": [-234.7, 144.3], "nice": false, "zero": false, "padding": 0}, "axis": null}}},
   {"data": {"name": "cell"}, "mark": {"type": "rect", "fill": "white", "fillOpacity": 0, "stroke": "black", "strokeWidth": 2, "clip": true}, "encoding": {}}
  ]},
 {"width": 603, "height": 379, "data": {"name": "cell"}, "mark": {"type": "rect", "fill": "white", "fillOpacity": 0, "stroke": "black", "strokeWidth": 2, "clip": true}}
 ], "spacing": 0,
 "resolve": {"scale": {"x": "independent", "y": "independent", "fill": "independent", "stroke": "independent"}, "legend": {"fill": "independent", "stroke": "independent"}}},
{"width": 1209, "height": 39, "data": {"name": "cell"}, "mark": {"type": "rect", "fill": "white", "fillOpacity": 0, "clip": true},
 "encoding": {"x": {"datum": 0, "type": "quantitative", "scale": {"domain": [0, 1], "nice": false, "zero": false, "padding": 0},
   "axis": {"orient": "top", "domain": false, "ticks": false, "labels": false, "grid": false, "title": "Source: FHS-Pôle Emploi, first spell per individual.", "titleX": 16, "titleY": 15, "titleAlign": "left", "titleAnchor": "start", "titleBaseline": "alphabetic", "titleFont": "DejaVu Sans", "titleFontSize": 16.9, "titleFontStyle": "italic", "titleFontWeight": "normal", "titleColor": "black", "titlePadding": 0, "zindex": 1}},
  "x2": {"datum": 1}}}
]
}
